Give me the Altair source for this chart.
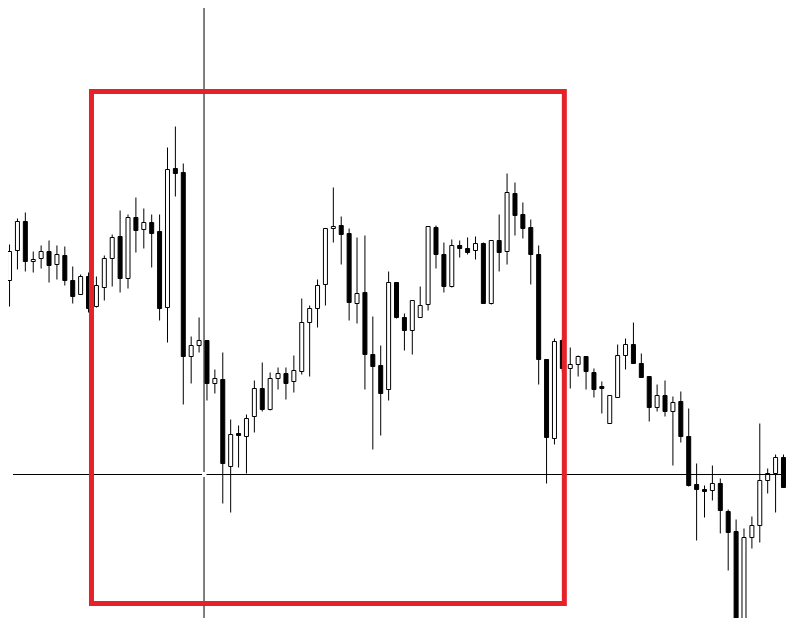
import altair as alt
import pandas as pd

# Candle OHLC values (arbitrary price units)
opens = [420, 450, 479, 439, 442, 449, 436, 445, 420, 406,
         424, 394, 413, 442, 464, 422, 483, 471, 478, 469,
         393, 532, 528, 344, 355, 360, 317, 321, 234, 267,
         264, 284, 312, 291, 322, 327, 319, 329, 378, 392,
         416, 472, 475, 467, 397, 408, 346, 335, 311, 418,
         383, 370, 383, 396, 473, 446, 414, 455, 452, 450,
         457, 397, 460, 449, 507, 486, 473, 446, 341, 262,
         360, 332, 336, 344, 328, 314, 277, 303, 345, 356,
         337, 324, 293, 305, 289, 299, 264, 216, 211, 210,
         217, 189, 169, 77, 163, 175, 220, 227, 243, 214]
highs = [456, 482, 488, 449, 455, 460, 455, 454, 434, 426,
         428, 424, 445, 466, 490, 486, 503, 492, 486, 486,
         553, 574, 537, 364, 383, 360, 331, 348, 281, 275,
         286, 320, 338, 328, 333, 333, 345, 402, 395, 421,
         472, 513, 484, 472, 463, 465, 384, 355, 429, 418,
         387, 400, 414, 474, 475, 458, 461, 460, 463, 464,
         458, 460, 486, 527, 518, 498, 481, 455, 341, 362,
         362, 353, 345, 344, 332, 319, 305, 356, 362, 378,
         347, 324, 316, 320, 304, 309, 292, 237, 215, 235,
         222, 191, 181, 172, 184, 277, 232, 246, 246, 215]
lows = [394, 431, 429, 428, 432, 418, 421, 415, 397, 406,
        388, 393, 400, 414, 408, 412, 448, 452, 433, 380,
        358, 504, 296, 317, 348, 300, 307, 197, 188, 233,
        227, 268, 289, 290, 311, 301, 308, 326, 324, 373,
        395, 458, 436, 380, 377, 311, 251, 265, 300, 382,
        350, 346, 383, 390, 432, 408, 413, 443, 446, 441,
        397, 396, 429, 436, 465, 462, 416, 316, 217, 256,
        328, 312, 324, 311, 303, 287, 277, 303, 331, 337,
        323, 279, 289, 284, 235, 258, 214, 160, 183, 200,
        167, 130, 74, 74, 152, 158, 207, 188, 213, 200]
closes = [449, 479, 439, 441, 449, 435, 446, 420, 404, 424,
          392, 415, 442, 463, 422, 483, 470, 478, 467, 392,
          531, 527, 344, 355, 360, 317, 322, 237, 266, 265,
          282, 312, 291, 322, 327, 317, 330, 378, 392, 415,
          472, 474, 466, 398, 407, 346, 334, 307, 418, 383,
          370, 400, 395, 474, 446, 414, 455, 452, 448, 457,
          397, 460, 448, 508, 485, 472, 446, 341, 263, 359,
          332, 336, 344, 329, 311, 312, 305, 345, 356, 337,
          323, 293, 305, 289, 298, 264, 215, 211, 209, 217,
          190, 168, 77, 163, 175, 220, 227, 243, 213, 206]

# Annotation box (red rectangle) and crosshair, in data units
box_x = [10.375, 70.25]
box_y = [97, 609]
cross_x = 24.625
cross_y = 226

X_DOMAIN = [0.4375, 97.8125]
Y_DOMAIN = [82.5, 692.5]

df = pd.DataFrame({
    "i": list(range(len(opens))),
    "open": opens, "high": highs, "low": lows, "close": closes,
})
df["dir"] = ["up" if c >= o else "down" for o, c in zip(opens, closes)]

xs = alt.Scale(domain=X_DOMAIN, nice=False, zero=False)
ys = alt.Scale(domain=Y_DOMAIN, nice=False, zero=False)

base = alt.Chart(df)

wicks = base.mark_rule(color="black", strokeWidth=1, clip=True).encode(
    x=alt.X("i:Q", scale=xs, axis=None),
    y=alt.Y("low:Q", scale=ys, axis=None),
    y2="high:Q",
)

bodies = base.mark_bar(size=4, stroke="black", strokeWidth=1, clip=True, opacity=1).encode(
    x=alt.X("i:Q", scale=xs, axis=None),
    y=alt.Y("open:Q", scale=ys, axis=None),
    y2="close:Q",
    fill=alt.Fill("dir:N", scale=alt.Scale(domain=["up", "down"], range=["white", "black"]), legend=None),
)

vseg = pd.DataFrame({
    "x": [cross_x, cross_x],
    "y": [Y_DOMAIN[1], cross_y - 2.5],
    "y2": [cross_y + 2.5, Y_DOMAIN[0]],
})
hseg = pd.DataFrame({
    "x": [X_DOMAIN[0], cross_x + 0.3125],
    "x2": [cross_x - 0.25, X_DOMAIN[1]],
    "y": [cross_y, cross_y],
})

vline = alt.Chart(vseg).mark_rule(color="black", strokeWidth=1).encode(
    x=alt.X("x:Q", scale=xs, axis=None),
    y=alt.Y("y:Q", scale=ys, axis=None),
    y2="y2:Q",
)
hline = alt.Chart(hseg).mark_rule(color="black", strokeWidth=1).encode(
    x=alt.X("x:Q", scale=xs, axis=None),
    x2="x2:Q",
    y=alt.Y("y:Q", scale=ys, axis=None),
)

boxdf = pd.DataFrame({"x": [box_x[0]], "x2": [box_x[1]], "y": [box_y[0]], "y2": [box_y[1]]})
box = alt.Chart(boxdf).mark_rect(fill=None, fillOpacity=0, stroke="#e52229", strokeWidth=5).encode(
    x=alt.X("x:Q", scale=xs, axis=None),
    x2="x2:Q",
    y=alt.Y("y:Q", scale=ys, axis=None),
    y2="y2:Q",
)

chart = alt.layer(wicks, bodies, vline, hline, box).properties(
    width=779, height=610,
    autosize=alt.AutoSizeParams(type="none"),
    padding=0,
    background="white",
).configure_view(stroke=None)

chart.save("out.html", embed_options={"renderer": "svg", "actions": False})
